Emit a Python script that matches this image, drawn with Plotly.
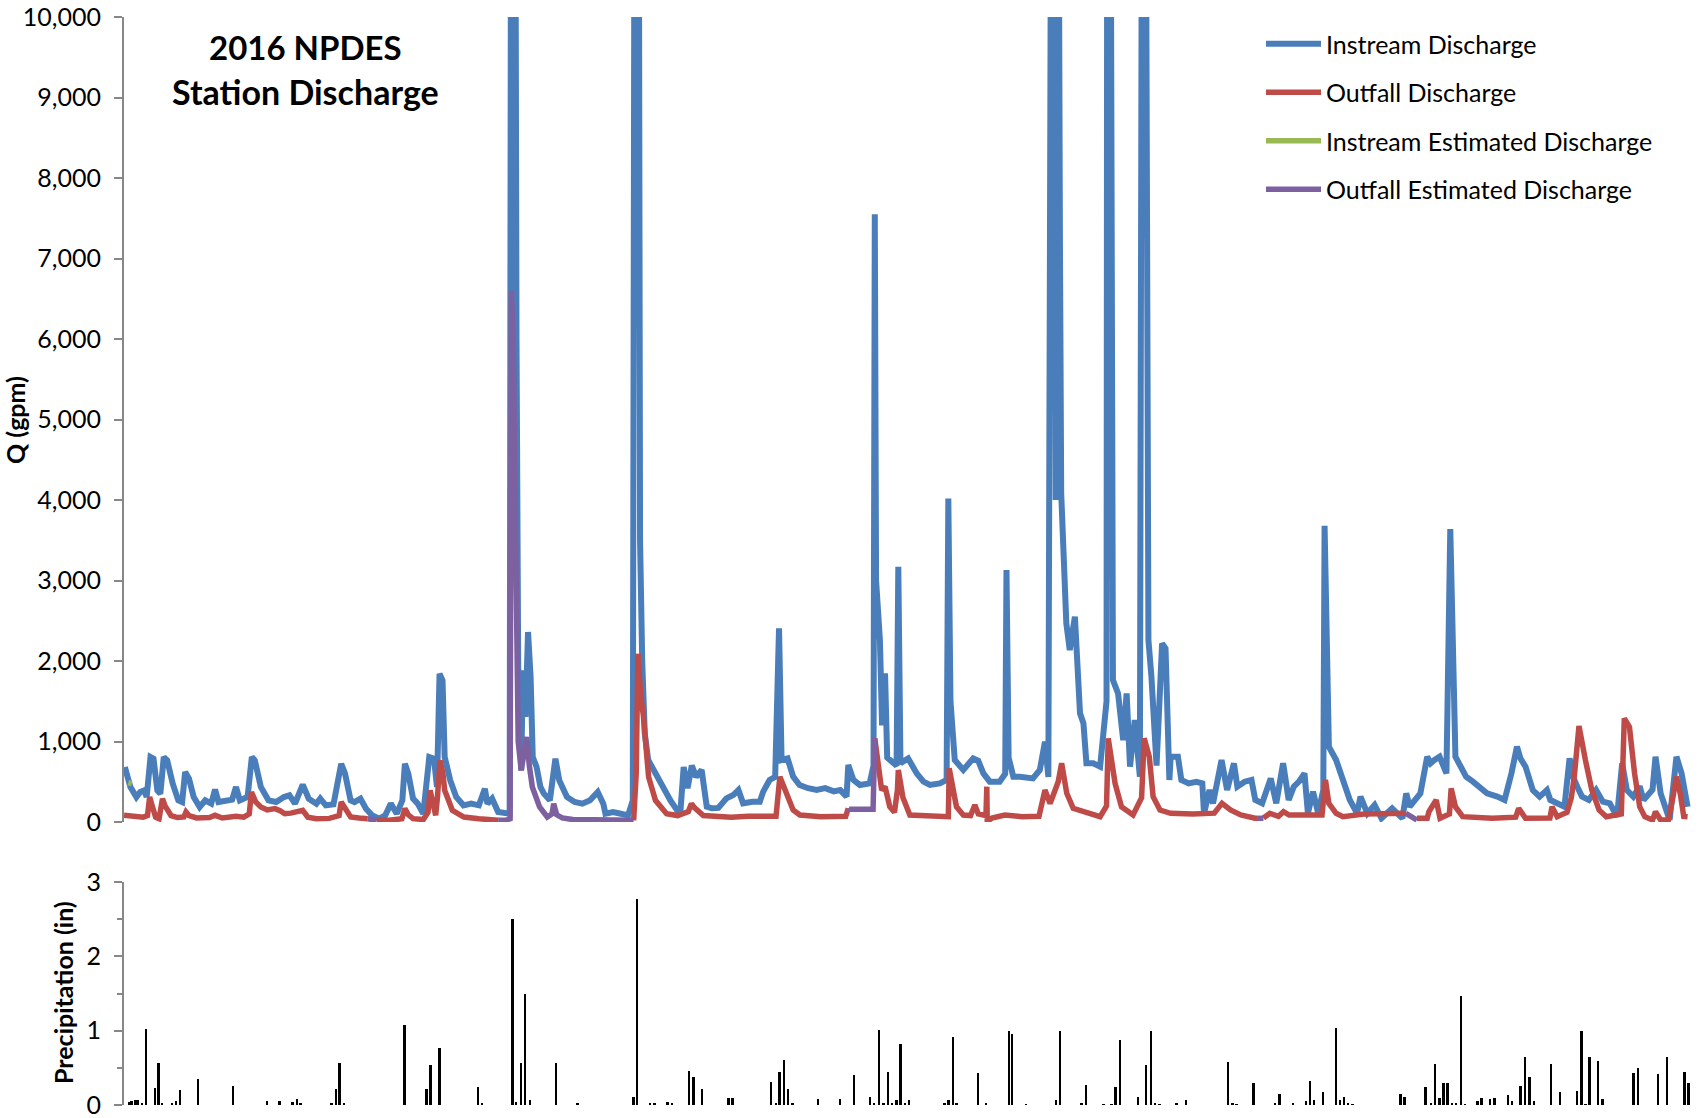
import plotly.graph_objects as go

# ---------------- data (day of year 2016) ----------------
instream_day = [0.2, 1.5, 2.9, 3.8, 4.7, 5.3, 6.2, 6.9, 7.8, 8.5, 9.3, 10.1, 11.4, 12.7, 13.6, 14.3, 15.2, 16.3,
                17.7, 19.0, 20.4, 21.3, 22.1, 23.9, 25.3, 26.2, 27.1, 28.9, 29.9, 30.6, 32.0, 33.8, 35.6, 37.4,
                38.7, 40.0, 41.8, 43.2, 45.0, 45.9, 47.2, 49.0, 50.8, 51.7, 53.0, 53.9, 55.3, 56.6, 58.0, 59.7,
                61.1, 62.4, 63.8, 65.1, 65.7, 66.5, 67.6, 68.7, 70.0, 71.4, 72.5, 73.2, 73.8, 74.5, 75.0, 76.3,
                77.7, 79.4, 81.2, 83.0, 84.4, 85.0, 86.1, 87.5, 89.3, 90.2, 90.6, 91.4, 91.8, 92.2, 92.9, 93.3,
                93.9, 94.5, 95.1, 95.6, 96.5, 97.4, 98.2, 99.6, 100.9, 101.8, 103.6, 105.4, 107.2, 109.0, 110.8,
                112.1, 112.6, 114.4, 116.2, 117.9, 119.0, 119.5, 120.3, 120.7, 121.2, 121.8, 122.6, 124.3, 126.0,
                127.8, 129.3, 130.1, 130.9, 131.8, 132.8, 133.8, 135.1, 136.3, 137.5, 139.0, 140.9, 142.5, 143.7,
                144.8, 147.0, 148.7, 149.5, 151.0, 152.3, 153.2, 153.8, 155.2, 156.5, 158.0, 160.0, 162.0, 164.0,
                166.0, 167.5, 169.0, 169.4, 170.6, 172.1, 174.4, 175.3, 175.6, 175.9, 176.8, 177.3, 178.0, 178.5,
                179.1, 180.7, 181.1, 181.6, 183.4, 185.4, 187.0, 188.5, 190.8, 192.4, 192.8, 193.3, 194.3, 196.3,
                198.6, 199.8, 201.0, 202.5, 204.8, 206.1, 206.4, 206.9, 208.0, 209.5, 212.6, 214.2, 215.4, 216.2,
                217.0, 217.5, 217.9, 218.4, 218.9, 219.2, 220.4, 221.2, 222.4, 223.6, 224.4, 225.1, 226.7, 228.3,
                229.8, 230.0, 230.6, 231.3, 232.5, 233.7, 234.5, 235.3, 236.4, 237.6, 238.2, 238.8, 239.6, 240.3,
                241.5, 242.8, 243.6, 244.5, 244.8, 246.5, 247.3, 249.0, 250.8, 252.2, 252.6, 253.9, 254.7, 256.7,
                258.0, 259.6, 260.4, 262.1, 263.7, 264.6, 266.2, 268.2, 269.5, 271.1, 272.4, 273.6, 274.8, 276.1,
                276.9, 278.1, 279.3, 280.5, 280.8, 281.8, 283.5, 285.1, 286.7, 288.4, 289.2, 290.8, 292.5, 294.1,
                296.6, 299.0, 299.9, 300.7, 302.3, 303.2, 304.8, 305.6, 306.5, 307.7, 309.3, 310.2, 311.4, 312.2,
                313.9, 315.5, 317.1, 318.8, 321.2, 322.9, 324.5, 325.8, 326.6, 327.8, 329.5, 331.1, 332.8, 333.6,
                335.2, 336.9, 338.1, 338.9, 339.9, 341.0, 342.6, 344.3, 345.9, 347.5, 349.2, 350.4, 351.5, 353.0,
                354.5, 355.4, 357.5, 358.2, 359.4, 360.7, 361.5, 363.1, 364.3, 365.7]
instream_q = [683, 435, 310, 373, 393, 310, 807, 787, 393, 352, 807, 766, 476, 269, 248, 621, 538, 310,
              186, 269, 228, 402, 248, 269, 277, 435, 269, 310, 807, 766, 435, 269, 248, 310,
              331, 228, 464, 290, 228, 290, 207, 219, 724, 600, 269, 248, 290, 166, 83, 41,
              83, 228, 103, 269, 724, 600, 290, 228, 103, 807, 787, 435, 1842, 1760, 807, 518,
              310, 207, 228, 207, 414, 228, 290, 124, 103, 103, 15000, 15000, 6000, 1925, 641, 1884,
              1304, 2360, 1800, 807, 683, 435, 352, 269, 787, 518, 310, 248, 228, 269, 373,
              228, 103, 124, 103, 83, 269, 15000, 15000, 3500, 2000, 1100, 770, 600, 435,
              269, 150, 103, 683, 420, 700, 560, 646, 190, 170, 175, 294, 335, 397,
              232, 252, 252, 377, 522, 560, 2405, 770, 790, 563, 460, 420, 397, 420,
              380, 397, 315, 708, 522, 460, 480, 700, 7550, 3000, 2260, 1200, 1846, 800,
              770, 700, 3171, 729, 790, 604, 501, 460, 480, 522, 4017, 1500, 770, 646,
              790, 760, 604, 501, 501, 600, 3130, 800, 563, 563, 542, 646, 998, 560,
              15000, 15000, 4000, 15000, 7250, 4080, 2467, 2136, 2550, 1350, 1225, 729, 729, 687,
              1500, 15000, 15000, 1763, 1598, 1018, 1598, 687, 1267, 563, 15000, 15000, 2260, 1805,
              700, 2219, 2157, 522, 811, 811, 522, 480, 500, 480, 108, 397, 230, 770,
              397, 729, 439, 501, 522, 273, 232, 542, 232, 729, 273, 439, 501, 604,
              108, 377, 108, 400, 3680, 936, 770, 522, 273, 108, 315, 108, 211, 46,
              170, 46, 356, 190, 315, 356, 811, 729, 770, 811, 604, 3640, 811, 729,
              563, 501, 439, 356, 315, 273, 604, 936, 791, 687, 397, 315, 397, 273,
              232, 190, 791, 563, 439, 315, 273, 397, 252, 232, 66, 729, 397, 315,
              442, 273, 400, 811, 356, 149, 25, 811, 604, 190]

outfall_day = [0.0, 2.0, 4.5, 5.5, 6.0, 6.6, 7.4, 8.2, 9.0, 9.6, 11.0, 12.5, 14.0, 14.5, 15.2, 17.0, 20.0,
               21.3, 23.0, 26.2, 28.0, 29.3, 29.8, 30.8, 32.0, 33.5, 35.3, 36.5, 37.6, 39.0, 41.8, 43.0,
               45.0, 48.0, 50.3, 50.8, 51.8, 53.0, 55.0, 57.0, None,
               59.1, 62.0, 65.0, 65.7, 66.5, 67.6, 70.0, 71.1, 71.6, 72.3, 72.9, 73.3, 73.9, 74.6, 75.0,
               76.8, 79.5, 83.0, 87.5, None,
               119.2, 119.8, 120.2, 120.8, 121.5, 122.7, 124.3, 126.9, 129.5, 132.0, 132.7, 133.4, 135.5,
               138.0, 142.0, 146.0, 150.0, 152.5, 153.4, 154.9, 156.5, 158.1, 163.0, 168.8, 169.4, None,
               175.6, 176.4, 177.2, 178.0, 179.1, 180.2, 180.9, 181.1, 182.2, 183.8, 190.0, 192.8, 193.0,
               194.7, 196.3, 198.0, 199.0, 199.8, 201.6, 201.8, 201.9, 203.0, 206.0, 210.0, 214.0, 215.4,
               216.6, 218.5, 219.3, 220.5, 222.0, 224.4, 228.3, 229.8, 230.2, 231.8, 233.3, 236.0, 238.0,
               238.6, 239.8, 240.7, 242.3, 244.8, 250.0, 255.0, 256.8, 258.8, 261.2, 264.5, 265.0, None,
               266.5, 268.0, 270.0, 271.2, 272.5, 280.2, 281.0, 281.8, 283.5, 285.1, 290.0, 295.0, 299.8, None,
               302.4, 304.8, 305.2, 306.9, 307.8, 310.0, 310.4, 311.4, 313.1, 320.0, 325.5, 326.2, 327.8,
               333.5, 334.0, 335.2, 337.5, 338.5, 339.2, 340.3, 341.8, 343.3, 345.0, 346.7, 350.2, 350.9,
               352.1, 353.3, 354.5, 355.7, 357.5, 358.2, 359.4, 361.2, 362.3, 363.1, 364.0, 364.8, 365.7]
outfall_q = [83, 70, 60, 80, 310, 200, 60, 41, 290, 200, 80, 55, 62, 124, 80, 50, 55,
             83, 50, 70, 60, 100, 373, 250, 186, 150, 166, 140, 103, 110, 145, 60,
             41, 45, 80, 248, 150, 62, 50, 41, None,
             21, 21, 40, 166, 90, 41, 30, 120, 393, 200, 83, 300, 766, 600, 393,
             145, 62, 40, 21, None,
             21, 600, 2090, 1600, 1304, 559, 269, 103, 80, 130, 228, 180, 80,
             66, 60, 70, 66, 70, 563, 356, 149, 87, 66, 70, 170, None,
             1039, 729, 397, 439, 190, 120, 400, 646, 300, 87, 66, 66, 667,
             190, 87, 80, 211, 100, 80, 439, 4, 50, 87, 66, 70, 397,
             230, 500, 729, 356, 170, 128, 66, 200, 1039, 480, 190, 87, 300,
             1039, 811, 315, 149, 108, 100, 110, 232, 149, 87, 46, 46, None,
             50, 108, 70, 128, 87, 87, 522, 232, 108, 66, 100, 108, 108, None,
             46, 46, 128, 273, 46, 100, 418, 190, 66, 46, 60, 170, 46,
             50, 190, 66, 120, 300, 563, 1192, 770, 397, 149, 66, 100, 1288,
             1180, 604, 190, 66, 25, 128, 25, 25, 315, 563, 350, 70, 66]

instream_est_day = [1.0, 1.8]
instream_est_q = [490, 478]

outfall_est_day = [57.0, 58.0, 59.1, None,
                   87.5, 89.3, 90.3, 90.6, 91.0, 91.3, 91.7, 92.2, 92.9, 93.6, 94.2, 94.8, 95.5, 97.2, 99.0,
                   100.1, 100.5, 101.2, 102.5, 105.0, 110.0, 118.8, 119.2, None,
                   169.4, 169.6, 175.2, 175.6, None,
                   265.0, 266.5, None,
                   299.8, 302.4]
outfall_est_q = [41, 25, 21, None,
                 21, 21, 40, 6600, 6000, 4800, 2500, 1000, 641, 900, 1055, 700, 435, 186, 62,
                 100, 228, 90, 50, 30, 21, 21, 21, None,
                 170, 157, 157, 1039, None,
                 46, 46, None,
                 108, 25]

precip_day = [1.2, 1.8, 2.7, 3.3, 4.2, 5.2, 7.25, 8.1, 9.0, 11.3, 12.2, 13.2, 17.3, 25.5, 33.5, 36.4, 39.5,
              40.5, 41.3, 48.6, 49.6, 50.5, 51.5, 65.7, 70.8, 71.7, 73.8, 82.8, 83.8, 90.9, 91.8, 92.9,
              93.8, 95.0, 101.1, 106.1, 119.2, 120.1, 123.1, 124.1, 127.2, 128.2, 132.2, 133.3, 135.3,
              141.4, 142.4, 151.4, 152.5, 153.4, 154.4, 155.4, 156.4, 162.4, 167.5,
              170.8, 174.6, 175.5, 176.6, 177.7, 178.7, 179.7, 180.7, 181.7, 182.7, 183.7, 192.0, 192.9,
              193.9, 194.8, 199.8, 201.7, 207.0, 207.8, 211.0, 218.0, 219.0, 224.0, 225.0, 229.1, 231.0,
              232.0, 233.0, 237.2, 239.1, 240.2, 241.2, 242.2, 246.2, 248.4, 258.3, 259.3, 260.3, 264.2,
              269.3, 270.3, 273.5, 276.5, 277.4, 278.4, 280.5, 283.5, 284.5, 285.4, 286.4, 287.4, 298.6,
              299.5, 304.5, 305.7, 306.7, 307.7, 308.7, 309.6, 310.6, 311.6, 312.7, 313.7, 316.6, 317.6,
              319.6, 320.6, 323.7, 324.7, 326.7, 327.7, 328.8, 329.8, 333.8, 335.9, 339.9, 340.9, 341.9,
              342.8, 344.8, 345.9, 353.1, 354.1, 358.9, 361.0, 365.0, 366.0]
precip_in = [0.035, 0.06, 0.066, 0.066, 0.02, 1.02, 0.23, 0.57, 0.02, 0.02, 0.05, 0.2, 0.35, 0.26, 0.06, 0.06, 0.035,
             0.08, 0.02, 0.02, 0.21, 0.56, 0.02, 1.08, 0.22, 0.54, 0.77, 0.24, 0.02, 2.50, 0.04,
             0.56, 1.49, 0.07, 0.57, 0.02, 0.11, 2.77, 0.02, 0.02, 0.035, 0.02, 0.46, 0.38, 0.21,
             0.09, 0.09, 0.31, 0.02, 0.45, 0.60, 0.21, 0.02, 0.08, 0.08,
             0.41, 0.11, 0.03, 1.01, 0.03, 0.45, 0.03, 0.07, 0.82, 0.03, 0.07, 0.03, 0.07,
             0.91, 0.03, 0.43, 0.03, 1.0, 0.96, 0.01, 0.07, 1.0, 0.03, 0.27, 0.01, 0.01,
             0.24, 0.88, 0.11, 0.54, 1.0, 0.03, 0.01, 0.03, 0.07, 0.58, 0.03, 0.01, 0.30,
             0.02, 0.15, 0.03, 0.06, 0.32, 0.07, 0.17, 1.03, 0.07, 0.11, 0.03, 0.01, 0.15,
             0.11, 0.24, 0.03, 0.55, 0.10, 0.29, 0.30, 0.03, 0.03, 1.46, 0.01, 0.05, 0.10,
             0.08, 0.10, 0.13, 0.05, 0.25, 0.64, 0.38, 0.05, 0.55, 0.18, 0.19, 1.0, 0.01,
             0.65, 0.59, 0.08, 0.43, 0.5, 0.42, 0.64, 0.45, 0.3]

q_ticks = [0, 1000, 2000, 3000, 4000, 5000, 6000, 7000, 8000, 9000, 10000]
p_ticks = [0, 1, 2, 3]

# ---------------- figure ----------------
W, H = 1701, 1118
FONT = "Lato"
AXIS_GRAY = "#878787"


def px_x(x):
    return x / W


def px_y(y):
    return 1 - y / H


x_dom = [px_x(124), px_x(1691)]
top_dom = [px_y(822), px_y(17)]
bot_dom = [px_y(1105), px_y(882)]

fig = go.Figure()
fig.add_trace(go.Scatter(x=instream_day, y=instream_q, mode="lines", name="Instream Discharge",
                         line=dict(color="#4A7EBB", width=6), legendgroup="g1",
                         xaxis="x", yaxis="y"))
fig.add_trace(go.Scatter(x=outfall_day, y=outfall_q, mode="lines", name="Outfall Discharge",
                         line=dict(color="#BE4B48", width=5.5), legendgroup="g2",
                         xaxis="x", yaxis="y"))
fig.add_trace(go.Scatter(x=instream_est_day, y=instream_est_q, mode="lines", name="Instream Estimated Discharge",
                         line=dict(color="#98B954", width=5.5), legendgroup="g3",
                         xaxis="x", yaxis="y"))
fig.add_trace(go.Scatter(x=outfall_est_day, y=outfall_est_q, mode="lines", name="Outfall Estimated Discharge",
                         line=dict(color="#7D60A0", width=5.5), legendgroup="g4",
                         xaxis="x", yaxis="y"))
fig.add_trace(go.Bar(x=precip_day, y=precip_in, width=0.45, marker=dict(color="black", line=dict(width=0)),
                     name="Precipitation", showlegend=False, xaxis="x2", yaxis="y2"))

common_x = dict(range=[0, 366.5], domain=x_dom, showticklabels=False, showline=False,
                showgrid=False, zeroline=False, ticks="", automargin=False)

fig.update_layout(
    width=W, height=H,
    margin=dict(l=0, r=0, t=0, b=0, autoexpand=False),
    paper_bgcolor="white", plot_bgcolor="white",
    font=dict(family=FONT, size=25, color="black"),
    showlegend=True,
    bargap=0,
    xaxis=dict(**common_x, anchor="y"),
    xaxis2=dict(**common_x, anchor="y2"),
    yaxis=dict(domain=top_dom, range=[0, 10000], tickvals=q_ticks, tickformat=",d",
               showline=True, linecolor=AXIS_GRAY, linewidth=2, ticks="outside", ticklen=8,
               tickcolor=AXIS_GRAY, tickwidth=2, showgrid=False, zeroline=False, automargin=False,
               ticklabelstandoff=8, ticklabeloverflow="allow",
               tickfont=dict(family=FONT, size=25, color="black"),
               anchor="x"),
    yaxis2=dict(domain=bot_dom, range=[0, 3], tickvals=p_ticks,
                showline=True, linecolor=AXIS_GRAY, linewidth=2, ticks="outside", ticklen=8,
                tickcolor=AXIS_GRAY, tickwidth=2, showgrid=False, zeroline=False, automargin=False,
                minor=dict(dtick=0.5, ticks="outside", ticklen=5, tickcolor=AXIS_GRAY, tickwidth=2),
                ticklabelstandoff=8, ticklabeloverflow="allow",
                tickfont=dict(family=FONT, size=25, color="black"),
                anchor="x2"),
    legend=dict(x=px_x(1261), y=px_y(21), xanchor="left", yanchor="top",
                font=dict(family=FONT, size=25, color="black"),
                tracegroupgap=13, itemwidth=55, bgcolor="rgba(0,0,0,0)", borderwidth=0),
    annotations=[
        dict(text="2016 NPDES", x=px_x(305), y=px_y(47), xref="paper", yref="paper",
             xanchor="center", yanchor="middle", showarrow=False,
             font=dict(family=FONT, size=33, weight="bold", color="black")),
        dict(text="Station Discharge", x=px_x(305), y=px_y(91), xref="paper", yref="paper",
             xanchor="center", yanchor="middle", showarrow=False,
             font=dict(family=FONT, size=34, weight="bold", color="black")),
        dict(text="Q (gpm)", x=px_x(15), y=px_y(420), xref="paper", yref="paper",
             xanchor="center", yanchor="middle", textangle=-90, showarrow=False,
             font=dict(family=FONT, size=25, weight="bold", color="black")),
        dict(text="Precipitation (in)", x=px_x(63), y=px_y(993), xref="paper", yref="paper",
             xanchor="center", yanchor="middle", textangle=-90, showarrow=False,
             font=dict(family=FONT, size=25, weight="bold", color="black")),
    ],
)

# remove the browser's default 8px body margin so the figure sits at the page corner
fig.write_html("out.html", config={"displayModeBar": False},
               post_script="document.body.style.margin='0';")
